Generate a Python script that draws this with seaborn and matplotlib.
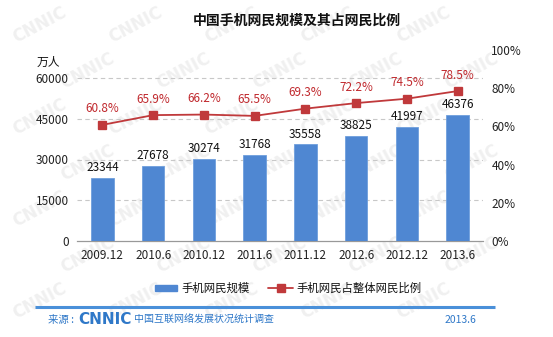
import matplotlib
matplotlib.use("Agg")
import matplotlib.pyplot as plt
import seaborn as sns
import pandas as pd
import numpy as np

periods = ["2009.12", "2010.6", "2010.12", "2011.6", "2011.12", "2012.6", "2012.12", "2013.6"]
users = [23344, 27678, 30274, 31768, 35558, 38825, 41997, 46376]
share = [60.8, 65.9, 66.2, 65.5, 69.3, 72.2, 74.5, 78.5]
left_ticks = [0, 15000, 30000, 45000, 60000]
right_ticks = [0, 20, 40, 60, 80, 100]

title = "中国手机网民规模及其占网民比例"
unit = "万人"
bar_label = "手机网民规模"
line_label = "手机网民占整体网民比例"
source_prefix = "来源 :"
source_logo = "CNNIC"
source_text = "中国互联网络发展状况统计调查"
date_text = "2013.6"

sns.set_theme(style="white")
plt.rcParams['font.family'] = ['Noto Sans CJK SC', 'DejaVu Sans']

df = pd.DataFrame({"period": periods, "users": users, "share": share})

W, H = 553, 337
fig = plt.figure(figsize=(W / 100, H / 100), dpi=100)
fig.patch.set_facecolor("white")

# watermark (kept inside the figure)
wm = fig.add_axes([0, 0, 1, 1], zorder=-5)
wm.set_axis_off()
wm.set_xlim(0, W)
wm.set_ylim(H, 0)
for row, y in enumerate(range(25, H - 15, 46)):
    off = (row % 2) * 48
    for x in range(40 + off, W - 35, 96):
        wm.text(x, y, "CNNIC", rotation=28, fontsize=12, color="#F0F0F0",
                fontweight="bold", ha="center", va="center", family="DejaVu Sans")

L, R, T, B = 77, 483, 50, 241
ax = fig.add_axes([L / W, 1 - B / H, (R - L) / W, (B - T) / H])
ax.patch.set_alpha(0)

bar_color = "#4F87D2"
sns.barplot(data=df, x="period", y="users", ax=ax, color=bar_color, width=0.44,
            saturation=1, edgecolor="#6F9FDD", linewidth=0.6, zorder=3)

top_left = 60000 * (B - T) / (B - 78)
ax.set_ylim(0, top_left)
ax.set_xlim(-0.5, len(periods) - 0.5)
ax.set_yticks(left_ticks)
ax.set_yticklabels([str(v) for v in left_ticks], fontsize=8.5, color="#222222")
ax.set_xlabel("")
ax.set_ylabel("")
ax.set_xticks(range(len(periods)))
ax.set_xticklabels(periods, fontsize=8.5, color="#222222")
ax.tick_params(axis="x", length=0, pad=6)
ax.tick_params(axis="y", length=0, pad=6)
for v in left_ticks[1:]:
    ax.axhline(v, color="#C8C8C8", linestyle=(0, (4, 3)), linewidth=0.8, zorder=1)
for s in ["top", "right", "left"]:
    ax.spines[s].set_visible(False)
ax.spines["bottom"].set_color("#999999")
ax.spines["bottom"].set_linewidth(0.9)
ax.set_xticks(np.arange(-0.5, len(periods), 1.0), minor=True)
ax.tick_params(axis="x", which="minor", length=4, color="#999999", width=0.9, direction="out")

for i, v in enumerate(users):
    ax.text(i, v + 1300, str(v), ha="center", va="bottom", fontsize=8.5, color="#111111", zorder=5)

ax2 = ax.twinx()
ax2.patch.set_alpha(0)
line_color = "#C0393B"
sns.pointplot(data=df, x="period", y="share", ax=ax2, color=line_color, markers="s",
              linestyles="-", markersize=5.5, linewidth=1.3, native_scale=False)
ax2.set_ylim(0, 100)
ax2.set_xlim(-0.5, len(periods) - 0.5)
ax2.set_yticks(right_ticks)
ax2.set_yticklabels([f"{v}%" for v in right_ticks], fontsize=8.5, color="#222222")
ax2.tick_params(axis="y", length=0, pad=6)
ax2.set_ylabel("")
ax2.set_xlabel("")
for s in ["top", "right", "left", "bottom"]:
    ax2.spines[s].set_visible(False)
for i, v in enumerate(share):
    ax2.text(i, v + 5, f"{v}%", ha="center", va="bottom", fontsize=8.5, color="#C0282D")

# title and unit
fig.text(297 / W, 1 - 21 / H, title, ha="center", va="center", fontsize=10, fontweight="bold", color="#111111")
fig.text(48 / W, 1 - 62 / H, unit, ha="center", va="center", fontsize=8.5, color="#111111")

# legend (manual on figure axes)
lg = fig.add_axes([0, 0, 1, 1], zorder=10)
lg.set_axis_off()
lg.set_xlim(0, W)
lg.set_ylim(H, 0)
lg.add_patch(plt.Rectangle((155, 285), 22, 6, color=bar_color))
lg.text(181, 288, bar_label, ha="left", va="center", fontsize=8.2, color="#111111")
lg.plot([268, 293], [288, 288], color=line_color, linewidth=1.3)
lg.plot([280.5], [288], marker="s", markersize=5.5, color=line_color)
lg.text(296, 288, line_label, ha="left", va="center", fontsize=8.2, color="#111111")

# footer
blue = "#2F78C8"
lg.plot([35, 495], [307, 307], color="#4A90D9", linewidth=2.2, solid_capstyle="butt")
lg.text(48, 320, source_prefix, ha="left", va="center", fontsize=7.5, color=blue)
lg.text(78, 320, source_logo, ha="left", va="center", fontsize=11, fontweight="bold",
        color=blue, family="DejaVu Sans")
lg.text(134, 320, source_text, ha="left", va="center", fontsize=7.2, color=blue)
lg.text(476, 320, date_text, ha="right", va="center", fontsize=7.5, color=blue)

fig.savefig("out.png", dpi=100, facecolor="white")
